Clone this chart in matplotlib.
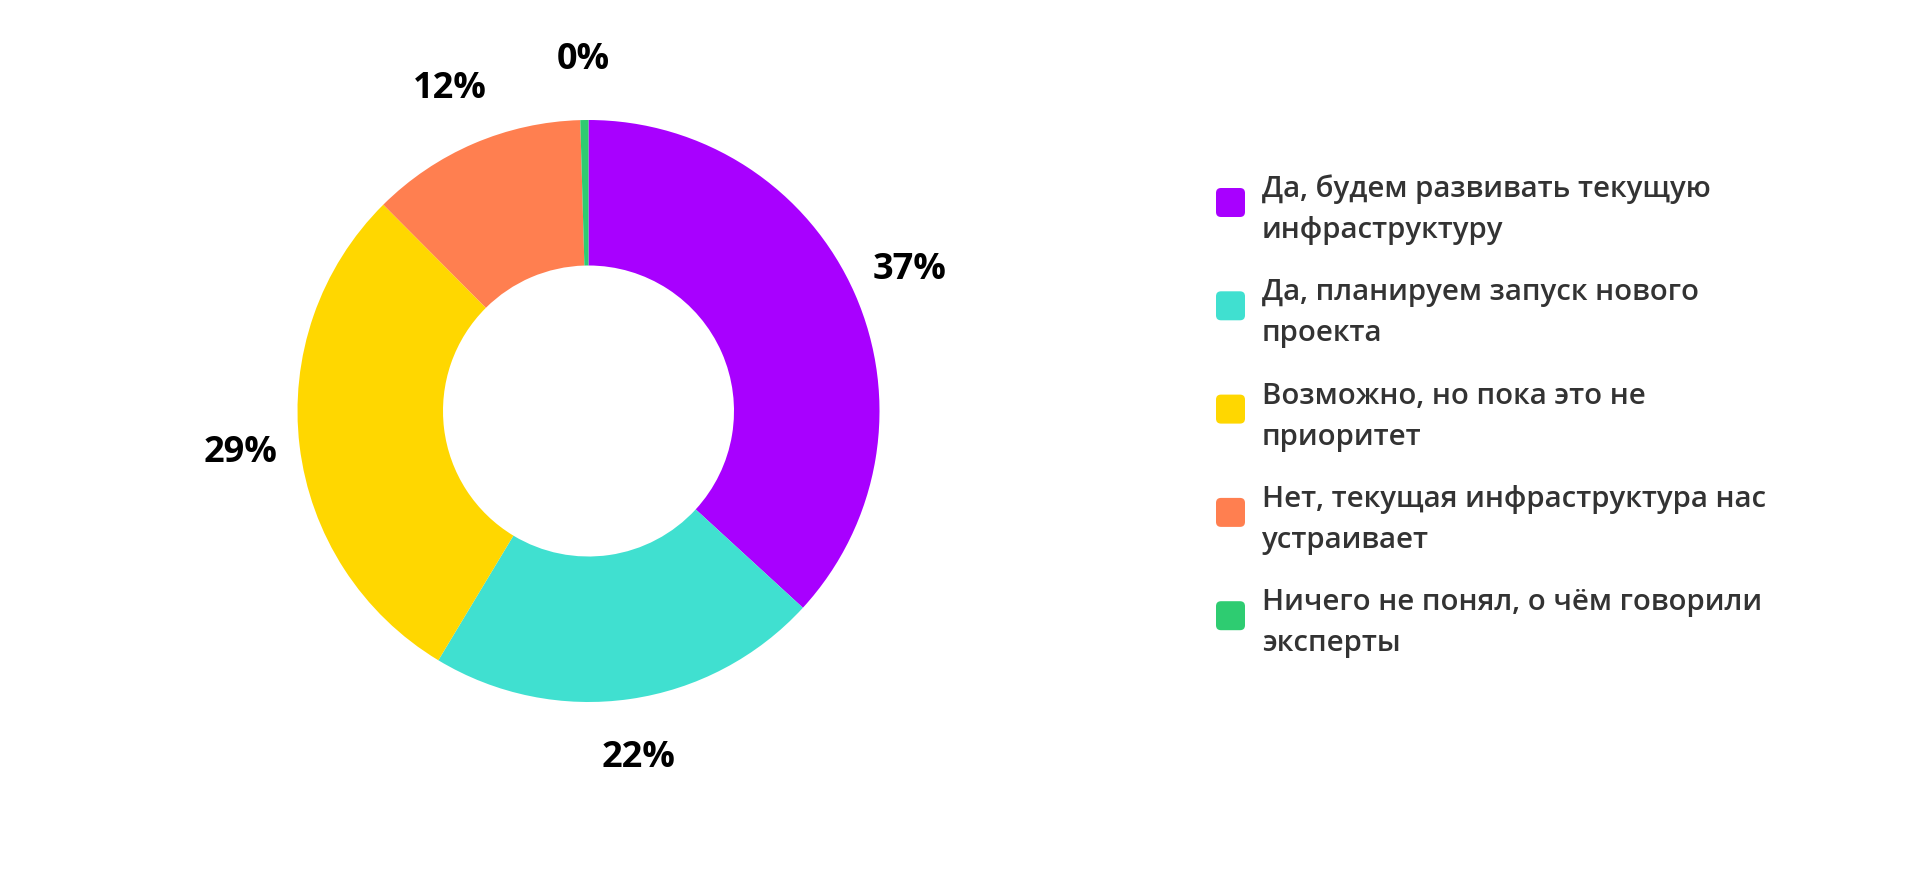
import matplotlib
matplotlib.use("Agg")
import matplotlib.pyplot as plt
from matplotlib.patches import FancyBboxPatch

# ---- data ----
categories = [
    "Да, будем развивать текущую\nинфраструктуру",
    "Да, планируем запуск нового\nпроекта",
    "Возможно, но пока это не\nприоритет",
    "Нет, текущая инфраструктура нас\nустраивает",
    "Ничего не понял, о чём говорили\nэксперты",
]
values = [36.8, 21.8, 28.9, 12.0, 0.45]
colors = ["#A800FF", "#40E0D0", "#FFD700", "#FF7F50", "#2ECC71"]

W, H = 1917, 869
fig = plt.figure(figsize=(W / 100, H / 100), dpi=100)
ax = fig.add_axes([0, 0, 1, 1])
ax.set_xlim(0, W)
ax.set_ylim(0, H)
ax.set_aspect("equal")
ax.axis("off")

R = 291
cx, cy = 588.5, H - 411
wedges, texts, autotexts = ax.pie(
    values,
    colors=colors,
    startangle=90,
    counterclock=False,
    center=(cx, cy),
    radius=R,
    wedgeprops=dict(width=R * 0.5, linewidth=0),
    autopct=lambda p: f"{p:.0f}%",
    pctdistance=1.205,
    textprops=dict(fontsize=26, fontweight="bold", color="#000000",
                   family=["Open Sans", "DejaVu Sans"]),
)
for t in autotexts:
    t.set_ha("center")
    t.set_va("center")
ax.set_xlim(0, W)
ax.set_ylim(0, H)

# ---- legend (manual) ----
lx0, lsz = 1216, 29
ytop0 = 202.5
step = 103.3
line_gap = 41
for i, (lab, col) in enumerate(zip(categories, colors)):
    yc = ytop0 + step * i
    box = FancyBboxPatch((lx0, H - yc - lsz / 2), lsz, lsz,
                         boxstyle="round,pad=0,rounding_size=5",
                         facecolor=col, edgecolor="none")
    ax.add_patch(box)
    for j, line in enumerate(lab.split("\n")):
        ax.text(1262, H - (yc - 5.5 + j * line_gap), line, ha="left", va="baseline",
                fontsize=21.2, fontweight="semibold", color="#333333",
                family=["Open Sans", "DejaVu Sans"])

fig.savefig("out.png", dpi=100, facecolor="white")
